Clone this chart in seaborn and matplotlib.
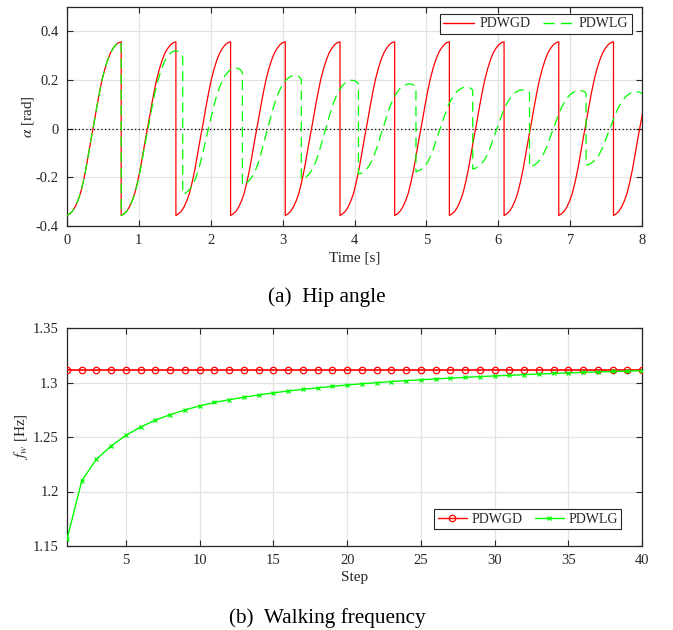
import matplotlib
matplotlib.use("Agg")
import matplotlib.pyplot as plt
import seaborn as sns
import pandas as pd
from matplotlib.lines import Line2D

# ---------------- data ----------------
# (a) Hip angle -- normalised shape of one swing (fraction of step time -> fraction of swing)
swing_shape_s = [0.00, 0.05, 0.10, 0.15, 0.20, 0.25, 0.30, 0.35, 0.40, 0.45, 0.50,
                 0.55, 0.60, 0.65, 0.70, 0.75, 0.80, 0.85, 0.90, 0.95, 1.00]
swing_shape_p = [0.000, 0.010, 0.025, 0.050, 0.085, 0.130, 0.195, 0.270, 0.360, 0.450, 0.535,
                 0.625, 0.710, 0.785, 0.845, 0.895, 0.935, 0.962, 0.982, 0.995, 1.000]
# PDWLG swing: same rise, then a rounded top before the drop
lag_shape_s = [0.000, 0.044, 0.088, 0.132, 0.176, 0.220, 0.264, 0.308, 0.352, 0.396, 0.440,
               0.484, 0.528, 0.572, 0.616, 0.660, 0.704, 0.748, 0.792, 0.836, 0.880,
               0.920, 0.960, 0.985, 1.000]
lag_shape_p = [0.000, 0.010, 0.025, 0.050, 0.085, 0.130, 0.195, 0.270, 0.360, 0.450, 0.535,
               0.625, 0.710, 0.785, 0.845, 0.895, 0.935, 0.962, 0.982, 0.995, 1.000,
               0.997, 0.988, 0.975, 0.960]

pdwgd_start = [0.000, 0.754, 1.515, 2.276, 3.037, 3.798, 4.559, 5.320, 6.081, 6.842, 7.603]
pdwgd_end   = [0.754, 1.515, 2.276, 3.037, 3.798, 4.559, 5.320, 6.081, 6.842, 7.603, 8.364]
pdwgd_low   = [-0.357, -0.357, -0.357, -0.357, -0.357, -0.357, -0.357, -0.357, -0.357, -0.357, -0.357]
pdwgd_high  = [0.357, 0.357, 0.357, 0.357, 0.357, 0.357, 0.357, 0.357, 0.357, 0.357, 0.357]

pdwlg_start = [0.000, 0.754, 1.610, 2.440, 3.260, 4.055, 4.855, 5.645, 6.435, 7.222]
pdwlg_end   = [0.754, 1.610, 2.440, 3.260, 4.055, 4.855, 5.645, 6.435, 7.222, 8.010]
pdwlg_low   = [-0.357, -0.357, -0.270, -0.231, -0.208, -0.187, -0.177, -0.166, -0.157, -0.150]
pdwlg_high  = [0.357, 0.320, 0.250, 0.219, 0.199, 0.184, 0.171, 0.160, 0.157, 0.152]
pdwlg_shape = ["swing", "lag", "lag", "lag", "lag", "lag", "lag", "lag", "lag", "lag"]

# (b) Walking frequency
steps = list(range(1, 41))
fw_pdwgd = [1.3113, 1.3113, 1.3113, 1.3113, 1.3113, 1.3113, 1.3113, 1.3113, 1.3113, 1.3113,
            1.3113, 1.3113, 1.3113, 1.3113, 1.3113, 1.3113, 1.3113, 1.3113, 1.3113, 1.3113,
            1.3113, 1.3113, 1.3113, 1.3113, 1.3113, 1.3113, 1.3113, 1.3113, 1.3113, 1.3113,
            1.3113, 1.3113, 1.3113, 1.3113, 1.3113, 1.3113, 1.3113, 1.3113, 1.3113, 1.3113]
fw_pdwlg = [1.1562, 1.2098, 1.2297, 1.2419, 1.2515, 1.2592, 1.2655, 1.2705, 1.2748, 1.2785,
            1.2817, 1.2842, 1.2865, 1.2886, 1.2905, 1.2922, 1.2937, 1.2951, 1.2964, 1.2977,
            1.2988, 1.2998, 1.3008, 1.3017, 1.3025, 1.3033, 1.3040, 1.3047, 1.3054, 1.3060,
            1.3066, 1.3072, 1.3078, 1.3083, 1.3088, 1.3093, 1.3097, 1.3101, 1.3105, 1.3108]

series_labels = ["PDWGD", "PDWLG"]
# ----------------------------------------------------------------

shapes = {"swing": (swing_shape_s, swing_shape_p), "lag": (lag_shape_s, lag_shape_p)}


def build(starts, ends, lows, highs, kinds):
    t, v = [], []
    for a, b, lo, hi, k in zip(starts, ends, lows, highs, kinds):
        ss, pp = shapes[k]
        t.extend(a + s * (b - a) for s in ss)
        v.extend(lo + p * (hi - lo) for p in pp)
    return pd.DataFrame({"t": t, "alpha": v})


df_gd = build(pdwgd_start, pdwgd_end, pdwgd_low, pdwgd_high, ["swing"] * len(pdwgd_start))
df_lg = build(pdwlg_start, pdwlg_end, pdwlg_low, pdwlg_high, pdwlg_shape)
df_fw = pd.DataFrame({"step": steps, "PDWGD": fw_pdwgd, "PDWLG": fw_pdwlg})

sns.set_theme(style="ticks")
plt.rcParams["font.family"] = ["Liberation Serif", "DejaVu Serif"]
plt.rcParams["mathtext.fontset"] = "stix"

RED = "#ff0000"
GREEN = "#00ff00"
EDGE = "#262626"
GRID = "#e3e3e3"

fig = plt.figure(figsize=(6.73, 6.30), dpi=100)
ax1 = fig.add_axes([67 / 673, 1 - 226 / 630, 575 / 673, 219 / 630])
ax2 = fig.add_axes([67 / 673, 1 - 546 / 630, 575 / 673, 218 / 630])


def style_axes(ax):
    ax.grid(True, color=GRID, linewidth=0.9)
    ax.set_axisbelow(True)
    for sp in ax.spines.values():
        sp.set_color(EDGE)
        sp.set_linewidth(0.9)
        sp.set_visible(True)
    ax.tick_params(direction="in", top=True, right=True, length=4, width=0.8,
                   color=EDGE, labelcolor=EDGE, labelsize=10.5, pad=6)


# ---- (a) Hip angle ----
ax1.axhline(0, color="black", linestyle=(0, (1, 2)), linewidth=0.9, zorder=1)
sns.lineplot(data=df_gd, x="t", y="alpha", ax=ax1, estimator=None, sort=False,
             color=RED, linewidth=0.9, zorder=3)
sns.lineplot(data=df_lg, x="t", y="alpha", ax=ax1, estimator=None, sort=False,
             color=GREEN, linewidth=0.9, zorder=4)
ax1.lines[-1].set_dashes([8, 4.5])
ax1.set_xlim(0, 8)
ax1.set_ylim(-0.4, 0.5)
ax1.set_xticks(range(0, 9))
ax1.set_yticks([-0.4, -0.2, 0, 0.2, 0.4])
ax1.set_yticklabels(["-0.4", "-0.2", "0", "0.2", "0.4"])
ax1.set_xlabel("Time [s]", fontsize=11, color=EDGE, labelpad=3)
ax1.set_ylabel(r"$\alpha$ [rad]", fontsize=11, color=EDGE, labelpad=0)
style_axes(ax1)
h1 = [Line2D([], [], color=RED, linewidth=1.0),
      Line2D([], [], color=GREEN, linewidth=1.0, dashes=[8, 4.5])]
leg1 = ax1.legend(h1, series_labels, ncol=2, loc="upper right",
                  bbox_to_anchor=(0.9826, 0.968), borderaxespad=0, fontsize=10,
                  frameon=True, fancybox=False, framealpha=1, edgecolor=EDGE,
                  handlelength=2.2, handletextpad=0.4, columnspacing=0.9,
                  borderpad=0.25)
leg1.get_frame().set_linewidth(0.8)

# ---- (b) Walking frequency ----
sns.lineplot(data=df_fw, x="step", y="PDWGD", ax=ax2, estimator=None, color=RED,
             linewidth=1.2, marker="o", markersize=4.6, markerfacecolor="none",
             markeredgecolor=RED, markeredgewidth=0.9, zorder=3)
sns.lineplot(data=df_fw, x="step", y="PDWLG", ax=ax2, estimator=None, color=GREEN,
             linewidth=1.0, marker="x", markersize=3.5, markeredgecolor=GREEN,
             markeredgewidth=0.9, zorder=4)
ax2.set_xlim(1, 40)
ax2.set_ylim(1.15, 1.35)
ax2.set_xticks([5, 10, 15, 20, 25, 30, 35, 40])
ax2.set_yticks([1.15, 1.2, 1.25, 1.3, 1.35])
ax2.set_yticklabels(["1.15", "1.2", "1.25", "1.3", "1.35"])
ax2.set_xlabel("Step", fontsize=11, color=EDGE, labelpad=3)
ax2.set_ylabel(r"$f_w$ [Hz]", fontsize=11, color=EDGE, labelpad=2)
style_axes(ax2)
h2 = [Line2D([], [], color=RED, linewidth=1.0, marker="o", markersize=4.6,
             markerfacecolor="none", markeredgewidth=0.9),
      Line2D([], [], color=GREEN, linewidth=1.0, marker="x", markersize=3.5,
             markeredgewidth=0.9)]
leg2 = ax2.legend(h2, series_labels, ncol=2, loc="lower right",
                  bbox_to_anchor=(0.9635, 0.078), borderaxespad=0, fontsize=10,
                  frameon=True, fancybox=False, framealpha=1, edgecolor=EDGE,
                  handlelength=2.1, handletextpad=0.3, columnspacing=0.9,
                  borderpad=0.25)
leg2.get_frame().set_linewidth(0.8)

# captions
fig.text(327 / 673, 1 - 297 / 630, "(a)  Hip angle", ha="center", va="center",
         fontsize=15.3, color="black")
fig.text(327 / 673, 1 - 618 / 630, "(b)  Walking frequency", ha="center", va="center",
         fontsize=15.3, color="black")

fig.savefig("out.png", dpi=100)
